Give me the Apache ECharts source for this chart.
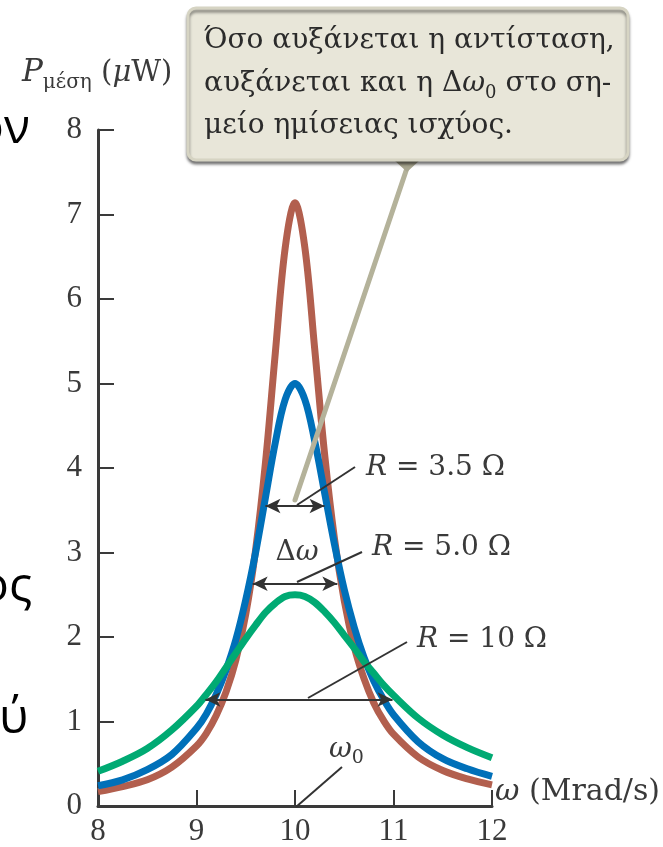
<!DOCTYPE html>
<html>
<head>
<meta charset="utf-8">
<script src="https://cdn.jsdelivr.net/npm/echarts@6/dist/echarts.min.js"></script>
<style>
html,body{margin:0;padding:0;background:#fff;}
#c{width:663px;height:847px;}
</style>
</head>
<body>
<div id="c"></div>
<script>
// ω in Mrad/s
const omega = [8, 8.25, 8.5, 8.75, 9, 9.1, 9.2, 9.3, 9.4, 9.5, 9.6, 9.7, 9.8, 9.9, 10, 10.1, 10.2, 10.3, 10.4, 10.5, 10.6, 10.7, 10.8, 10.9, 11, 11.25, 11.5, 11.75, 12];
// P_avg in μW
const pR35 = [0.17, 0.23, 0.31, 0.46, 0.71, 0.86, 1.07, 1.35, 1.73, 2.27, 3.03, 4.06, 5.36, 6.60, 7.14, 6.61, 5.41, 4.17, 3.17, 2.43, 1.89, 1.51, 1.22, 1.01, 0.85, 0.58, 0.42, 0.32, 0.25];
const pR50 = [0.24, 0.31, 0.43, 0.61, 0.92, 1.09, 1.32, 1.61, 1.97, 2.44, 3.00, 3.65, 4.30, 4.81, 5.00, 4.81, 4.32, 3.71, 3.10, 2.56, 2.12, 1.76, 1.48, 1.26, 1.08, 0.76, 0.56, 0.44, 0.35];
const pR10 = [0.41, 0.53, 0.68, 0.90, 1.18, 1.32, 1.47, 1.64, 1.81, 1.98, 2.14, 2.29, 2.40, 2.48, 2.50, 2.48, 2.41, 2.30, 2.17, 2.02, 1.87, 1.71, 1.57, 1.43, 1.31, 1.04, 0.84, 0.69, 0.57];
// half-power width arrows: [left ω, right ω, level]
const arrowR35 = [9.70, 10.30, 3.55];
const arrowR50 = [9.57, 10.43, 2.63];
const arrowR10 = [9.09, 10.99, 1.26];
const xTicks = [8, 9, 10, 11, 12];
const yTicks = [0, 1, 2, 3, 4, 5, 6, 7, 8];

const SERIF = '"Liberation Serif", "DejaVu Serif", serif';
const WIDE = '"DejaVu Serif", "Liberation Serif", serif';
const SANS = '"Open Sans", "Noto Sans", sans-serif';
const INK = '#333333';

function pairs(xs, ys) { return xs.map((x, i) => [x, ys[i]]); }
function arrow(a) { return [{ coord: [a[0], a[2]] }, { coord: [a[1], a[2]] }]; }

const chart = echarts.init(document.getElementById('c'), null, { renderer: 'canvas' });

const axisCommon = {
  axisLine: { show: true, onZero: false, lineStyle: { color: '#3a3a3a', width: 3 } },
  axisTick: { show: true, inside: true, length: 16, lineStyle: { color: '#3a3a3a', width: 2 } },
  splitLine: { show: false },
  axisLabel: { color: '#3a3a3a', fontFamily: SERIF, fontSize: 31 }
};

function txt(x, y, text, size, extra) {
  return {
    type: 'text', x: x, y: y, z: 200,
    style: Object.assign({
      text: text, fill: '#2b2b2b', fontFamily: WIDE, fontSize: size,
      verticalAlign: 'middle', align: 'left'
    }, extra || {})
  };
}
const it = (s) => ({ fontStyle: 'italic', fontSize: s, fontFamily: WIDE });

const option = {
  animation: false,
  backgroundColor: '#ffffff',
  grid: { left: 98, right: 171, top: 130, bottom: 39, containLabel: false },
  xAxis: Object.assign({}, axisCommon, {
    type: 'value', min: 8, max: 12, interval: 1,
    axisLabel: Object.assign({}, axisCommon.axisLabel, { margin: 10 })
  }),
  yAxis: Object.assign({}, axisCommon, {
    type: 'value', min: 0, max: 8, interval: 1,
    axisLabel: Object.assign({}, axisCommon.axisLabel, { margin: 16 })
  }),
  series: [
    { type: 'line', name: 'R = 3.5 Ω', data: pairs(omega, pR35), smooth: 0.35, showSymbol: false,
      lineStyle: { color: '#b25f4e', width: 7 }, z: 2 },
    { type: 'line', name: 'R = 5.0 Ω', data: pairs(omega, pR50), smooth: 0.35, showSymbol: false,
      lineStyle: { color: '#0070b9', width: 7 }, z: 3 },
    { type: 'line', name: 'R = 10 Ω', data: pairs(omega, pR10), smooth: 0.35, showSymbol: false,
      lineStyle: { color: '#00aa73', width: 7 }, z: 4,
      markLine: {
        silent: true, symbol: ['arrow', 'arrow'], symbolSize: [11, 15],
        lineStyle: { color: INK, width: 2, type: 'solid' },
        label: { show: false }, emphasis: { disabled: true },
        data: [arrow(arrowR35), arrow(arrowR50), arrow(arrowR10)]
      } }
  ],
  graphic: [
    // callout box
    { type: 'rect', z: 150, shape: { x: 188, y: 8, width: 440, height: 152, r: 8 },
      style: { fill: '#e8e6d9', stroke: '#d6d4c3', lineWidth: 3, shadowColor: 'rgba(0,0,0,0.45)', shadowOffsetY: 3, shadowBlur: 3 } },
    { type: 'polygon', z: 149, shape: { points: [[394, 160], [420, 160], [407, 172]] }, style: { fill: '#a9a790' } },
    { type: 'line', z: 148, shape: { x1: 407, y1: 168, x2: 295, y2: 500 }, style: { stroke: '#b4b29a', lineWidth: 5, lineCap: 'round' } },
    txt(204, 41, 'Όσο αυξάνεται η αντίσταση,', 28),
    txt(204, 84, 'αυξάνεται και η Δ{i|ω}{s|0} στο ση-', 28, {
      lineHeight: 36,
      rich: { i: Object.assign(it(28), { lineHeight: 36 }),
              s: { fontSize: 18, fontFamily: WIDE, verticalAlign: 'bottom', lineHeight: 36 } }
    }),
    txt(204, 126, 'μείο ημίσειας ισχύος.', 28),
    // axis names
    txt(22, 73, '{p|P}{s|μέση} ({m|μ}W)', 29, {
      fill: '#3a3a3a', lineHeight: 40,
      rich: { p: Object.assign(it(31), { lineHeight: 40 }),
              s: { fontSize: 20, fontFamily: WIDE, verticalAlign: 'bottom', lineHeight: 40 },
              m: Object.assign(it(29), { lineHeight: 40 }) }
    }),
    txt(495, 792, '{i|ω} (Mrad/s)', 30, { fill: '#3a3a3a', rich: { i: it(30) } }),
    // curve labels
    txt(366, 468, '{i|R} = 3.5 Ω', 28, { fill: '#3a3a3a', rich: { i: it(28) } }),
    txt(372, 548, '{i|R} = 5.0 Ω', 28, { fill: '#3a3a3a', rich: { i: it(28) } }),
    txt(417, 640, '{i|R} = 10 Ω', 28, { fill: '#3a3a3a', rich: { i: it(28) } }),
    txt(297, 553, 'Δ{i|ω}', 28, { fill: '#3a3a3a', align: 'center', rich: { i: it(28) } }),
    txt(329, 750, '{i|ω}{s|0}', 28, {
      fill: '#3a3a3a', lineHeight: 36,
      rich: { i: Object.assign(it(28), { lineHeight: 36 }),
              s: { fontSize: 19, fontFamily: WIDE, verticalAlign: 'bottom', lineHeight: 36 } }
    }),
    // leader lines
    { type: 'line', z: 120, shape: { x1: 355, y1: 467, x2: 297, y2: 505 }, style: { stroke: INK, lineWidth: 2 } },
    { type: 'line', z: 120, shape: { x1: 362, y1: 552, x2: 297, y2: 582 }, style: { stroke: INK, lineWidth: 2 } },
    { type: 'line', z: 120, shape: { x1: 407, y1: 642, x2: 308, y2: 698 }, style: { stroke: INK, lineWidth: 2 } },
    { type: 'line', z: 120, shape: { x1: 342, y1: 767, x2: 296, y2: 807 }, style: { stroke: INK, lineWidth: 2 } },
    // cropped surrounding page text
    txt(-25, 129, 'ον', 48, { fill: '#000', fontFamily: SANS }),
    txt(-20, 587, 'ος', 48, { fill: '#000', fontFamily: SANS }),
    txt(-1, 719, 'ύ', 48, { fill: '#000', fontFamily: SANS })
  ]
};
chart.setOption(option);
</script>
</body>
</html>
